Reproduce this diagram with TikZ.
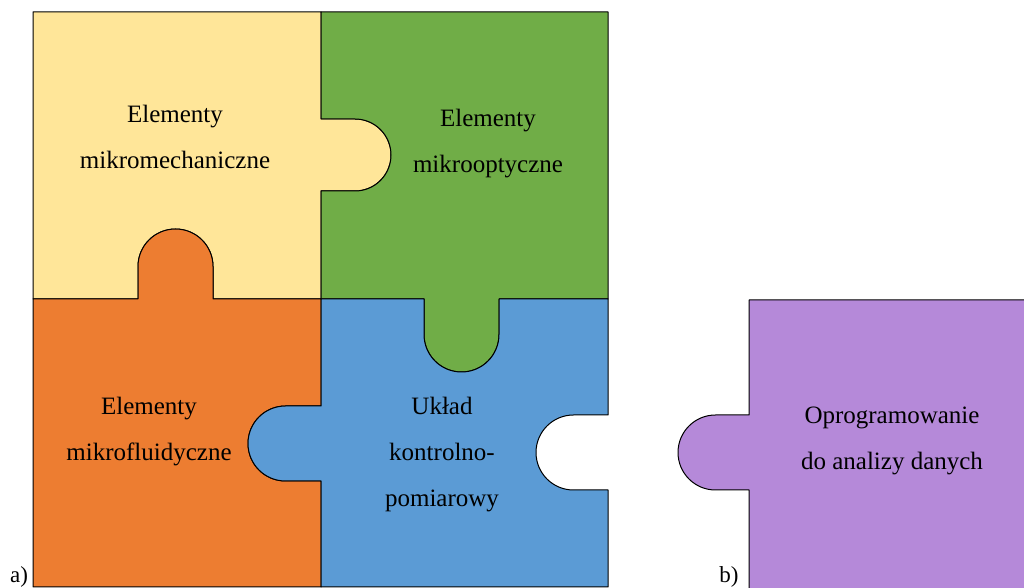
\documentclass[tikz,border=0pt]{standalone}
\usepackage{fontspec}
\setmainfont{Liberation Serif}
\definecolor{pyellow}{HTML}{FFE699}
\definecolor{pgreen}{HTML}{70AD47}
\definecolor{porange}{HTML}{ED7D31}
\definecolor{pblue}{HTML}{5B9BD5}
\definecolor{ppurple}{HTML}{B589D9}
\begin{document}
\begin{tikzpicture}[x=1pt,y=1pt,
  piece/.style={draw=black,line width=1pt,line join=round},
  lbl/.style={align=center,inner sep=0pt,font=\fontsize{25}{46}\selectfont},
  tag/.style={inner sep=0pt,font=\fontsize{23}{26}\selectfont}]
\useasboundingbox (0,0) rectangle (1024,588);
\begin{scope}
\clip (0,0) rectangle (1024,588);
% top-left piece
\path[piece,fill=pyellow] (33,576) -- (321,576) -- (321,469) -- (355,469)
  arc[start angle=90,end angle=-90,radius=36] -- (321,397) -- (321,289)
  -- (213,289) -- (213,321.5) arc[start angle=0,end angle=180,radius=37.5]
  -- (138,289) -- (33,289) -- cycle;
% top-right piece
\path[piece,fill=pgreen] (321,576) -- (608,576) -- (608,289) -- (499,289)
  -- (499,253.5) arc[start angle=0,end angle=-180,radius=37.5] -- (424,289)
  -- (321,289) -- (321,397) -- (355,397) arc[start angle=-90,end angle=90,radius=36]
  -- (321,469) -- cycle;
% bottom-left piece
\path[piece,fill=porange] (33,289) -- (138,289) -- (138,321.5)
  arc[start angle=180,end angle=0,radius=37.5] -- (213,289) -- (321,289)
  -- (321,182) -- (285.5,182) arc[start angle=90,end angle=270,radius=37.5]
  -- (321,107) -- (321,1) -- (33,1) -- cycle;
% bottom-right piece
\path[piece,fill=pblue] (321,289) -- (424,289) -- (424,253.5)
  arc[start angle=180,end angle=360,radius=37.5] -- (499,289) -- (608,289)
  -- (608,173) -- (573.5,173) arc[start angle=90,end angle=270,radius=37.5]
  -- (608,98) -- (608,1) -- (321,1) -- (321,107) -- (285.5,107)
  arc[start angle=270,end angle=90,radius=37.5] -- (321,182) -- cycle;
% separate piece
\path[piece,fill=ppurple] (749,288) -- (1030,288) -- (1030,-5) -- (749,-5)
  -- (749,98) -- (715.5,98) arc[start angle=270,end angle=90,radius=37.5]
  -- (749,173) -- cycle;
\end{scope}
\node[lbl] (mech) at (175,451) {Elementy\\mikromechaniczne};
\node[lbl] (opt) at (488,444.5) {Elementy\\mikrooptyczne};
\node[lbl] (fluid) at (149,156.5) {Elementy\\mikrofluidyczne};
\node[lbl] (ctrl) at (442,133) {Układ\\kontrolno-\\pomiarowy};
\node[lbl] (soft) at (892,147) {Oprogramowanie\\do analizy danych};
\node[tag] (a) at (19,11) {a)};
\node[tag] (b) at (729,11) {b)};
\end{tikzpicture}
\end{document}
